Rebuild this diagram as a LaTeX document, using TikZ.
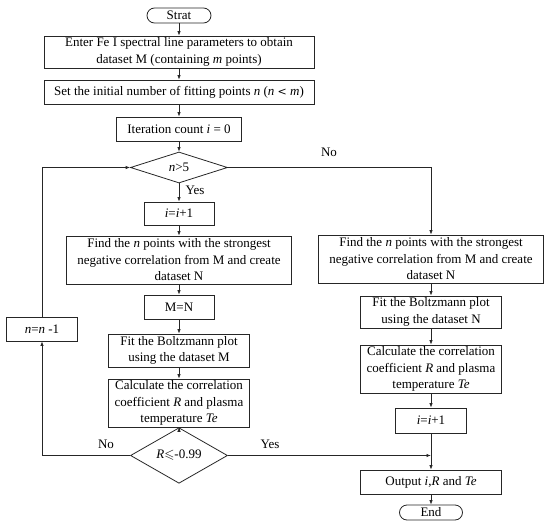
\documentclass[tikz,border=0pt]{standalone}
\usepackage{amssymb}
\usepackage{fontspec}
\setmainfont{Liberation Serif}
\usetikzlibrary{shapes.geometric,arrows.meta}
\begin{document}
\begin{tikzpicture}[x=1pt,y=-1pt,
  every node/.style={font=\fontsize{13}{16.5}\selectfont, text=black},
  box/.style={draw=black!85, line width=0.8pt, rectangle, align=center, inner sep=1pt},
  pill/.style={draw=black!85, line width=0.8pt, rectangle, rounded corners=7.5pt, align=center, inner sep=1pt},
  dia/.style={draw=black!85, line width=0.8pt, diamond, inner sep=0pt},
  lbl/.style={inner sep=0pt},
  link/.style={draw=black!85, line width=0.8pt},
  arr/.style={link, -{Latex[length=4.5pt,width=3.5pt]}}
]
\path[use as bounding box] (0,0) rectangle (550,528);
% main column
\node[pill, minimum width=64pt, minimum height=15pt] (st) at (179,15.5) {Strat};
\node[box, minimum width=270pt, minimum height=32pt] (b1) at (179,52) {Enter Fe I spectral line parameters to obtain\\dataset M (containing \textit{m} points)};
\node[box, minimum width=270pt, minimum height=24pt] (b2) at (179,92) {Set the initial number of fitting points \textit{n} (\textit{n} {\fontspec{DejaVu Serif}\fontsize{11}{13}\selectfont <} \textit{m})};
\node[box, minimum width=125pt, minimum height=24pt] (b3) at (179,129) {Iteration count \textit{i} = 0};
\node[dia, minimum width=97pt, minimum height=31pt] (d1) at (179,167.5) {\textit{n}>5};
\node[box, minimum width=70pt, minimum height=23pt] (li) at (179,213.5) {\textit{i}=\textit{i}+1};
\node[box, minimum width=225pt, minimum height=48pt] (lf) at (179,260) {Find the \textit{n} points with the strongest\\negative correlation from M and create\\dataset N};
\node[box, minimum width=70pt, minimum height=24pt] (lmn) at (179,307) {M=N};
\node[box, minimum width=141pt, minimum height=33pt] (lfit) at (179,350.5) {Fit the Boltzmann plot\\using the dataset M};
\node[box, minimum width=141pt, minimum height=48pt] (lc) at (179,403) {Calculate the correlation\\coefficient \textit{R} and plasma\\temperature \textit{Te}};
\node[dia, minimum width=97pt, minimum height=33pt] (d2) at (179,455.5) {\textit{R}$\leqslant$-0.99};
\node[box, minimum width=71pt, minimum height=24pt] (nn) at (42,329) {\textit{n}=\textit{n} -1};
% right column
\node[box, minimum width=225pt, minimum height=48pt] (rf) at (431,259) {Find the \textit{n} points with the strongest\\negative correlation from M and create\\dataset N};
\node[box, minimum width=141pt, minimum height=32pt] (rfit) at (431,312) {Fit the Boltzmann plot\\using the dataset N};
\node[box, minimum width=141pt, minimum height=48pt] (rc) at (431,369) {Calculate the correlation\\coefficient \textit{R} and plasma\\temperature \textit{Te}};
\node[box, minimum width=71pt, minimum height=25pt] (ri) at (431,420.5) {\textit{i}=\textit{i}+1};
\node[box, minimum width=141pt, minimum height=24pt] (out) at (431,482) {Output \textit{i},\textit{R} and \textit{Te}};
\node[pill, minimum width=63pt, minimum height=15pt] (en) at (431,512.5) {End};
\coordinate (j) at (431,455.5);
% labels
\node[lbl] (y1) at (195,190) {Yes};
\node[lbl] (n1) at (329,152) {No};
\node[lbl] (n2) at (106,444) {No};
\node[lbl] (y2) at (270,444) {Yes};
% connectors
\draw[arr] (st) -- (b1);
\draw[arr] (b1) -- (b2);
\draw[arr] (b2) -- (b3);
\draw[arr] (b3) -- (d1);
\draw[arr] (d1) -- (li);
\draw[arr] (li) -- (lf);
\draw[arr] (lf) -- (lmn);
\draw[arr] (lmn) -- (lfit);
\draw[arr] (lfit) -- (lc);
\draw[arr] (lc) -- (d2);
\draw[arr] (d2.west) -| (nn.south);
\draw[arr] (nn.north) |- (d1.west);
\draw[arr] (d1.east) -| (rf.north);
\draw[arr] (rf) -- (rfit);
\draw[arr] (rfit) -- (rc);
\draw[arr] (rc) -- (ri);
\draw[arr] (ri) -- (out);
\draw[arr] (out) -- (en);
\draw[arr] (d2.east) -- (j);
\end{tikzpicture}
\end{document}
